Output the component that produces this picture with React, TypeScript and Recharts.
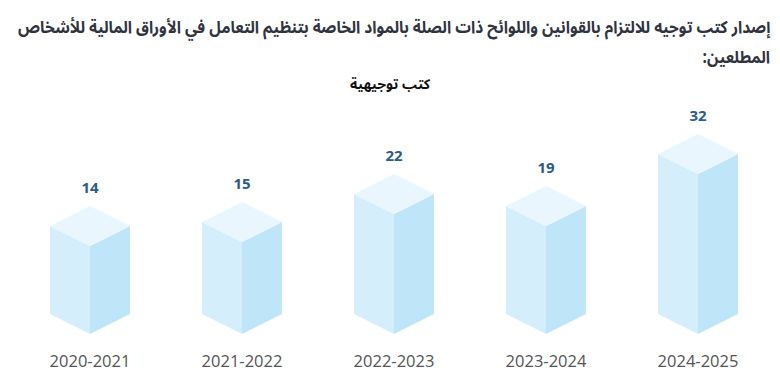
import React, { useLayoutEffect, useRef, useState } from 'react';
import { BarChart, Bar, XAxis, YAxis, LabelList } from 'recharts';

const categories = ['2020-2021', '2021-2022', '2022-2023', '2023-2024', '2024-2025'];
const guideBooks = [14, 15, 22, 19, 32];

const titleLine1 = 'إصدار كتب توجيه للالتزام بالقوانين واللوائح ذات الصلة بالمواد الخاصة بتنظيم التعامل في الأوراق المالية للأشخاص';
const titleLine2 = 'المطلعين:';
const subtitle = 'كتب توجيهية';

const data = categories.map((period, i) => ({ period, value: guideBooks[i] }));

const TOP_COLOR = '#eaf6fd';
const LEFT_COLOR = '#d5eefb';
const RIGHT_COLOR = '#bee6f8';

const ARABIC_FONT = "'Noto Sans Arabic', 'Noto Naskh Arabic', 'DejaVu Sans', sans-serif";
const TITLE_WIDTH = 752;

// isometric box: y = front top corner, bottom = bottom of the plot
const Cube = (props: any) => {
  const { x, y, width, height, background } = props;
  const hw = width / 2;
  const d = hw / 2;
  const cx = x + hw;
  const yb = background ? background.y + background.height : y + height;
  const top = `${cx},${y - 2 * d} ${cx + hw},${y - d} ${cx},${y} ${cx - hw},${y - d}`;
  const left = `${cx - hw},${y - d} ${cx},${y} ${cx},${yb} ${cx - hw},${yb - d}`;
  const right = `${cx},${y} ${cx + hw},${y - d} ${cx + hw},${yb - d} ${cx},${yb}`;
  return (
    <g>
      <polygon points={left} fill={LEFT_COLOR} />
      <polygon points={right} fill={RIGHT_COLOR} />
      <polygon points={top} fill={TOP_COLOR} />
    </g>
  );
};

const ValueLabel = (props: any) => {
  const { x, y, width, value } = props;
  return (
    <text
      x={x + width / 2}
      y={y - 59}
      textAnchor="middle"
      dominantBaseline="central"
      fontFamily="'Open Sans', sans-serif"
      fontWeight={700}
      fontSize={15}
      fill="#2b5c8a"
    >
      {value}
    </text>
  );
};

const PeriodTick = (props: any) => {
  const { x, y, payload } = props;
  return (
    <text
      x={x}
      y={y + 26}
      textAnchor="middle"
      dominantBaseline="central"
      fontFamily="'Open Sans', sans-serif"
      fontSize={16.5}
      fill="#555555"
    >
      {payload.value}
    </text>
  );
};

const Title = () => {
  const ref = useRef<HTMLSpanElement>(null);
  const [scale, setScale] = useState(1);
  // stretch the long first line to the reference's width, same factor for both lines
  useLayoutEffect(() => {
    if (ref.current) {
      const w = ref.current.offsetWidth;
      if (w > 0) setScale(TITLE_WIDTH / w);
    }
  }, []);
  const spanStyle: React.CSSProperties = {
    display: 'inline-block',
    transform: `scaleX(${scale})`,
    transformOrigin: 'right center',
  };
  return (
    <div
      dir="rtl"
      style={{
        position: 'absolute',
        right: 10,
        top: 14,
        width: 760,
        fontFamily: ARABIC_FONT,
        fontWeight: 700,
        fontSize: 17,
        lineHeight: '28px',
        color: '#30343f',
        whiteSpace: 'nowrap',
        textAlign: 'right',
      }}
    >
      <div style={{ height: 30 }}>
        <span ref={ref} style={spanStyle}>{titleLine1}</span>
      </div>
      <div style={{ height: 28 }}>
        <span style={spanStyle}>{titleLine2}</span>
      </div>
    </div>
  );
};

export default function App() {
  return (
    <div style={{ position: 'absolute', left: 0, top: 0, width: 780, height: 389, background: '#fff' }}>
      <Title />
      <div
        dir="rtl"
        style={{
          position: 'absolute',
          left: 0,
          width: 780,
          top: 70,
          textAlign: 'center',
          fontFamily: ARABIC_FONT,
          fontWeight: 700,
          fontSize: 14,
          color: '#111111',
        }}
      >
        {subtitle}
      </div>
      <BarChart
        width={780}
        height={389}
        data={data}
        margin={{ top: 110, right: 6, left: 14, bottom: 0 }}
      >
        <XAxis
          dataKey="period"
          axisLine={false}
          tickLine={false}
          tickSize={0}
          tickMargin={0}
          height={55}
          interval={0}
          tick={<PeriodTick />}
        />
        <YAxis hide domain={[-8, 48]} allowDataOverflow />
        <Bar dataKey="value" barSize={80} shape={<Cube />} isAnimationActive={false}>
          <LabelList dataKey="value" content={<ValueLabel />} />
        </Bar>
      </BarChart>
    </div>
  );
}
